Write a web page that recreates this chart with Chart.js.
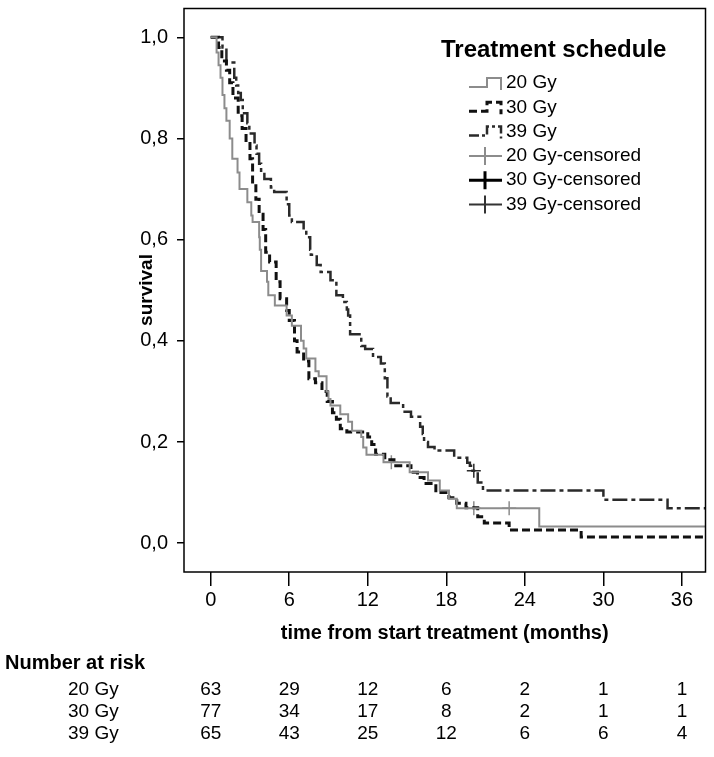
<!DOCTYPE html>
<html>
<head>
<meta charset="utf-8">
<script src="https://cdn.jsdelivr.net/npm/chart.js@4.4.0/dist/chart.umd.min.js"></script>
<style>
  html, body { margin: 0; padding: 0; background: #fff; }
  #wrap { width: 714px; height: 757px; position: relative; }
</style>
</head>
<body>
<div id="wrap"><canvas id="kmChart" width="714" height="757"></canvas></div>
<script>
// time (months) where survival steps down, and the survival after the step
var t20 = [0, 0.45, 0.6, 0.75, 0.9, 1.05, 1.2, 1.45, 1.65, 2.05, 2.2, 2.8, 3.1, 3.2, 3.7, 3.75, 3.85, 4.3, 4.4, 4.9, 5.8, 6.2, 6.9, 7.1, 7.3, 8.0, 8.25, 8.85, 9.0, 9.15, 9.9, 10.5, 10.8, 11.5, 11.65, 11.9, 13.2, 15.2, 16.6, 17.5, 18.2, 18.8, 25.1, 37.8];
var s20 = [1, 0.97, 0.945, 0.92, 0.886, 0.86, 0.835, 0.80, 0.76, 0.733, 0.70, 0.674, 0.648, 0.635, 0.605, 0.58, 0.538, 0.517, 0.49, 0.47, 0.45, 0.43, 0.40, 0.385, 0.365, 0.34, 0.33, 0.30, 0.285, 0.272, 0.255, 0.24, 0.222, 0.21, 0.189, 0.175, 0.16, 0.14, 0.124, 0.104, 0.088, 0.069, 0.033, 0.033];

var t30 = [0, 0.6, 0.85, 1.2, 1.45, 1.7, 2.1, 2.4, 2.7, 3.0, 3.2, 3.45, 3.7, 4.0, 4.2, 4.5, 5.0, 5.3, 5.8, 6.0, 6.4, 6.6, 7.1, 7.5, 8.0, 8.5, 8.9, 9.3, 9.6, 9.9, 10.4, 12.0, 12.3, 12.6, 13.3, 14.0, 15.3, 15.8, 16.3, 17.2, 18.2, 18.8, 19.5, 20.4, 20.9, 22.8, 28.3, 37.8];
var s30 = [1, 0.98, 0.953, 0.935, 0.91, 0.88, 0.845, 0.82, 0.79, 0.76, 0.71, 0.68, 0.65, 0.62, 0.575, 0.556, 0.517, 0.483, 0.46, 0.44, 0.40, 0.378, 0.36, 0.325, 0.317, 0.30, 0.28, 0.258, 0.245, 0.226, 0.22, 0.21, 0.195, 0.176, 0.165, 0.153, 0.14, 0.13, 0.118, 0.10, 0.09, 0.079, 0.07, 0.052, 0.04, 0.026, 0.012, 0.012];

var t39 = [0, 0.7, 0.9, 1.2, 1.8, 1.95, 2.1, 2.3, 2.45, 2.8, 2.95, 3.35, 3.5, 3.7, 3.85, 4.1, 4.6, 4.85, 5.8, 6.0, 6.2, 7.1, 7.3, 7.6, 7.65, 8.1, 8.4, 9.15, 9.6, 10.1, 10.4, 10.5, 10.65, 11.5, 11.8, 12.4, 13.0, 13.3, 13.5, 13.75, 14.7, 15.3, 16.0, 16.2, 16.3, 16.6, 17.1, 18.6, 19.6, 19.8, 20.0, 20.4, 20.8, 30.0, 34.9, 37.8];
var s39 = [1, 1, 0.98, 0.95, 0.92, 0.905, 0.89, 0.876, 0.85, 0.83, 0.81, 0.786, 0.77, 0.75, 0.733, 0.72, 0.703, 0.694, 0.67, 0.648, 0.635, 0.62, 0.605, 0.58, 0.57, 0.55, 0.536, 0.52, 0.49, 0.477, 0.462, 0.45, 0.413, 0.39, 0.384, 0.368, 0.355, 0.326, 0.29, 0.277, 0.26, 0.25, 0.23, 0.216, 0.2, 0.19, 0.183, 0.169, 0.159, 0.153, 0.143, 0.12, 0.104, 0.086, 0.069, 0.069];

// censored observations
var cens20T = [13.8, 20.1, 22.8];
var cens20S = [0.16, 0.069, 0.069];
var cens39T = [20.1];
var cens39S = [0.143];

var xTicks = [0, 6, 12, 18, 24, 30, 36];
var yTicks = [0, 0.2, 0.4, 0.6, 0.8, 1.0];

var riskGroups = ['20 Gy', '30 Gy', '39 Gy'];
var risk20 = [63, 29, 12, 6, 2, 1, 1];
var risk30 = [77, 34, 17, 8, 2, 1, 1];
var risk39 = [65, 43, 25, 12, 6, 6, 4];

function pts(t, s) {
  return t.map(function (v, i) { return { x: v, y: s[i] }; });
}

var col20 = '#8c8c8c', col30 = '#111111', col39 = '#2a2a2a';
var dash30 = [8, 4], dash39 = [15, 4, 4, 4];
var FONT = '"Liberation Sans", Arial, sans-serif';

var extras = {
  id: 'extras',
  afterDraw: function (chart) {
    var ctx = chart.ctx, a = chart.chartArea;
    var xs = chart.scales.x;
    ctx.save();
    // frame
    ctx.strokeStyle = '#000';
    ctx.lineWidth = 1.5;
    ctx.strokeRect(a.left, a.top, a.right - a.left, a.bottom - a.top);

    ctx.fillStyle = '#000';
    // axis titles
    ctx.font = 'bold 20px ' + FONT;
    ctx.textAlign = 'center';
    ctx.textBaseline = 'middle';
    ctx.fillText('time from start treatment (months)', (a.left + a.right) / 2, 633);
    ctx.save();
    ctx.translate(147, 290);
    ctx.rotate(-Math.PI / 2);
    ctx.font = 'bold 19px ' + FONT;
    ctx.fillText('survival', 0, 0);
    ctx.restore();

    // legend
    ctx.textAlign = 'left';
    ctx.font = 'bold 24px ' + FONT;
    ctx.fillText('Treatment schedule', 441, 50);
    ctx.font = '19px ' + FONT;
    var rows = [
      { label: '20 Gy', color: col20, dash: [], w: 2, kind: 'step' },
      { label: '30 Gy', color: col30, dash: dash30, w: 3, kind: 'step' },
      { label: '39 Gy', color: col39, dash: [10, 3, 3, 3], w: 2.5, kind: 'step' },
      { label: '20 Gy-censored', color: col20, dash: [], w: 2, kind: 'cens' },
      { label: '30 Gy-censored', color: '#000', dash: [], w: 3, kind: 'cens' },
      { label: '39 Gy-censored', color: '#333', dash: [], w: 2, kind: 'cens' }
    ];
    rows.forEach(function (r, i) {
      var y = 83 + i * 24.3;
      ctx.strokeStyle = r.color;
      ctx.lineWidth = r.w;
      ctx.setLineDash(r.dash);
      ctx.beginPath();
      if (r.kind === 'step') {
        ctx.moveTo(469, y + 4);
        ctx.lineTo(487, y + 4);
        ctx.lineTo(487, y - 5);
        ctx.lineTo(501, y - 5);
        ctx.lineTo(501, y + 7);
      } else {
        ctx.moveTo(469, y);
        ctx.lineTo(502, y);
        ctx.moveTo(485, y - 9);
        ctx.lineTo(485, y + 9);
      }
      ctx.stroke();
      ctx.setLineDash([]);
      ctx.fillStyle = '#000';
      ctx.fillText(r.label, 506, y);
    });

    // number at risk table
    ctx.font = 'bold 20px ' + FONT;
    ctx.fillText('Number at risk', 5, 663);
    ctx.font = '19px ' + FONT;
    var riskRows = [risk20, risk30, risk39];
    riskRows.forEach(function (vals, r) {
      var y = 690 + r * 22;
      ctx.textAlign = 'left';
      ctx.fillText(riskGroups[r], 68, y);
      ctx.textAlign = 'center';
      vals.forEach(function (v, i) {
        ctx.fillText(String(v), xs.getPixelForValue(xTicks[i]), y);
      });
    });
    ctx.restore();
  }
};

var ctx = document.getElementById('kmChart').getContext('2d');
var myChart = new Chart(ctx, {
  type: 'line',
  data: {
    datasets: [
      { label: '20 Gy', data: pts(t20, s20), stepped: 'before', borderColor: col20, borderWidth: 2, pointRadius: 0, fill: false },
      { label: '30 Gy', data: pts(t30, s30), stepped: 'before', borderColor: col30, borderWidth: 3, borderDash: dash30, pointRadius: 0, fill: false },
      { label: '39 Gy', data: pts(t39, s39), stepped: 'before', borderColor: col39, borderWidth: 2.5, borderDash: dash39, pointRadius: 0, fill: false },
      { label: '20 Gy-censored', type: 'scatter', data: pts(cens20T, cens20S), pointStyle: 'cross', pointRadius: 7, borderColor: col20, borderWidth: 1.5, showLine: false },
      { label: '39 Gy-censored', type: 'scatter', data: pts(cens39T, cens39S), pointStyle: 'cross', pointRadius: 7, borderColor: col39, borderWidth: 1.5, showLine: false }
    ]
  },
  options: {
    responsive: false,
    animation: false,
    devicePixelRatio: 1,
    layout: { padding: { top: 5, right: 3, left: 0, bottom: 0 } },
    plugins: { legend: { display: false }, tooltip: { enabled: false } },
    scales: {
      x: {
        type: 'linear', min: -2.04, max: 37.8,
        afterBuildTicks: function (s) { s.ticks = xTicks.map(function (v) { return { value: v }; }); },
        afterFit: function (s) { s.height = 185; s.paddingLeft = 0; s.paddingRight = 0; },
        grid: { drawOnChartArea: false, drawTicks: true, tickLength: 14, color: '#000', lineWidth: 1.5 },
        border: { display: false },
        ticks: { color: '#000', padding: 2, maxRotation: 0, font: { family: FONT, size: 20 } }
      },
      y: {
        type: 'linear', min: -0.057, max: 1.057,
        afterBuildTicks: function (s) { s.ticks = yTicks.map(function (v) { return { value: v }; }); },
        afterFit: function (s) { s.width = 184; s.paddingTop = 0; s.paddingBottom = 0; },
        grid: { drawOnChartArea: false, drawTicks: true, tickLength: 7, color: '#000', lineWidth: 1.5 },
        border: { display: false },
        ticks: {
          color: '#000', padding: 9, font: { family: FONT, size: 20 },
          callback: function (v) { return v.toFixed(1).replace('.', ','); }
        }
      }
    }
  },
  plugins: [extras]
});
</script>
</body>
</html>
